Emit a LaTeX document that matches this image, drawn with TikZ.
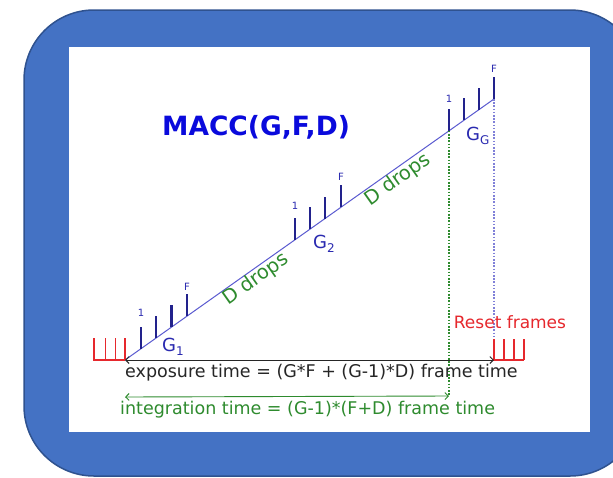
\documentclass[tikz,border=0pt]{standalone}
\usepackage{fontspec}
\setmainfont{DejaVu Sans}
\usetikzlibrary{arrows.meta}
\definecolor{boxblue}{HTML}{4472C4}
\definecolor{boxedge}{HTML}{2F528F}
\definecolor{ticknavy}{HTML}{22228C}
\definecolor{lineblue}{HTML}{5A5AD0}
\definecolor{lblblue}{HTML}{2A2AB0}
\definecolor{titleblue}{HTML}{0A0ADC}
\definecolor{dgreen}{HTML}{2E8B2E}
\definecolor{rred}{HTML}{E6282D}
\definecolor{dotpurple}{HTML}{8080D8}
\tikzset{
  fs/.style={font=\fontsize{#1}{#1}\selectfont},
  tickline/.style={draw=ticknavy, line width=2.2pt},
  ticklbl/.style={fs=10, text=lblblue, inner sep=0pt},
  glbl/.style={fs=18, text=lblblue, inner sep=0pt, anchor=west},
  resetline/.style={draw=rred, line width=1.4pt},
  drops/.style={fs=19.5, text=dgreen, inner sep=0pt, rotate=35.27},
  dotv/.style={line width=1.2pt, dash pattern=on 1.6pt off 1.6pt},
  barb/.style={arrows={Straight Barb[length=3.5pt,width=7pt]-Straight Barb[length=3.5pt,width=7pt]}},
}
\begin{document}
\begin{tikzpicture}[x=1pt, y=-1pt]
\useasboundingbox (0,0) rectangle (613,477);
% background panel
\draw[draw=boxedge, line width=1.5pt, fill=boxblue, rounded corners=70pt] (24,10) rectangle (640,476);
\fill[white] (69,47) rectangle (590,432);
% title
\node[font={\fontsize{26.5}{26.5}\selectfont\bfseries}, text=titleblue, inner sep=0pt] (title) at (256,127) {MACC(G,F,D)};
% main ramp
\coordinate (s) at (125,360);
\coordinate (e) at (494,99);
\draw[draw=lineblue, line width=1pt] (s) -- (e);
% group G1 ticks
\coordinate (a1) at (141,348.68);
\coordinate (a2) at (156,338.07);
\coordinate (a3) at (171.5,327.11);
\coordinate (a4) at (187,316.15);
\foreach \c in {a1,a2,a3,a4} \draw[tickline] (\c) -- ++(0,-22);
% group G2 ticks
\coordinate (b1) at (295,239.76);
\coordinate (b2) at (310,229.15);
\coordinate (b3) at (325,218.54);
\coordinate (b4) at (340.7,207.43);
\foreach \c in {b1,b2,b3,b4} \draw[tickline] (\c) -- ++(0,-22);
% group GG ticks
\coordinate (c1) at (449,130.83);
\coordinate (c2) at (464,120.22);
\coordinate (c3) at (479,109.61);
\coordinate (c4) at (494,99);
\foreach \c in {c1,c2,c3,c4} \draw[tickline] (\c) -- ++(0,-22);
% tick labels
\node[ticklbl] (l1a) at (141,313) {1};
\node[ticklbl] (lfa) at (187,287) {F};
\node[ticklbl] (l1b) at (295,206) {1};
\node[ticklbl] (lfb) at (341,177) {F};
\node[ticklbl] (l1c) at (449,99) {1};
\node[ticklbl] (lfc) at (494,69) {F};
% group labels
\node[glbl] (g1) at (162,347) {G\raisebox{-4pt}{\fontsize{12}{12}\selectfont 1}};
\node[glbl] (g2) at (313,244) {G\raisebox{-4pt}{\fontsize{12}{12}\selectfont 2}};
\node[glbl] (gg) at (466,136) {G\raisebox{-4pt}{\fontsize{12}{12}\selectfont G}};
% D drops
\node[drops] (d1) at (256,279.5) {D drops};
\node[drops] (d2) at (398,180) {D drops};
% dotted verticals
\coordinate (gi) at (449,396);
\coordinate (pe) at (494,360);
\draw[draw=dgreen, dotv] (c1) -- (gi);
\draw[draw=dotpurple, dotv] (c4) -- (pe);
% reset frames
\draw[resetline] (94,338) -- (94,360) -- (125,360);
\foreach \x in {105.5,115.5,125} \draw[resetline] (\x,338) -- (\x,360);
\draw[resetline] (494,339) -- (494,360) -- (524,360);
\foreach \x in {504,514,524} \draw[resetline] (\x,339) -- (\x,360);
\node[fs=17, text=rred, inner sep=0pt] (rf) at (510,322) {Reset frames};
% exposure arrow
\draw[draw=black!85, line width=0.9pt, barb] (s) -- (pe);
\node[fs=17.5, text=black!85, inner sep=0pt, anchor=west] (exp) at (125,373) {exposure time = (G*F + (G-1)*D) frame time};
% integration arrow
\coordinate (is) at (125,397);
\draw[draw=dgreen, line width=0.9pt, barb] (is) -- (gi);
\node[fs=17.5, text=dgreen, inner sep=0pt, anchor=west] (int) at (120,410) {integration time = (G-1)*(F+D) frame time};
\end{tikzpicture}
\end{document}
